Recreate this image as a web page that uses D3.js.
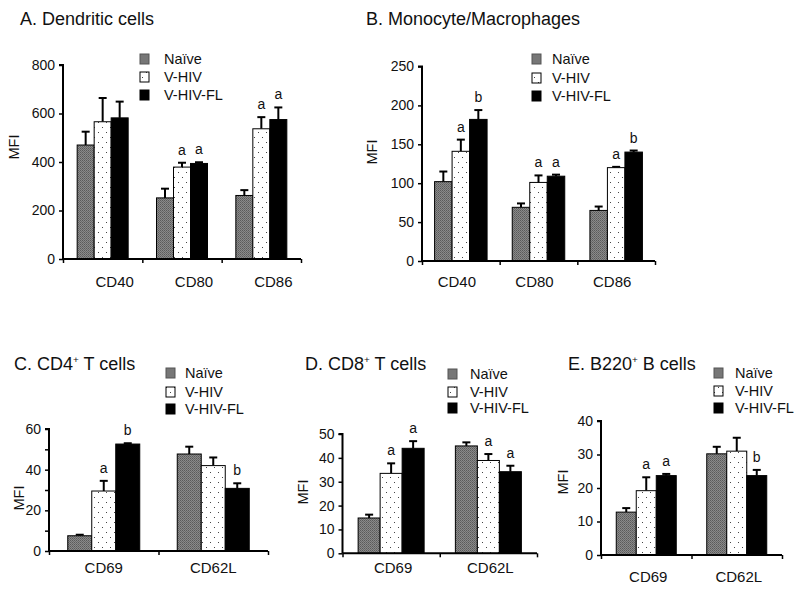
<!DOCTYPE html>
<html>
<head>
<meta charset="utf-8">
<script src="https://cdn.jsdelivr.net/npm/d3@7"></script>
<style>
  html, body { margin: 0; padding: 0; background: #fff; }
  svg { display: block; }
  text { font-family: "Liberation Sans", Arial, Helvetica, sans-serif; fill: #111; }
</style>
</head>
<body>
<svg id="chart" width="800" height="590"></svg>
<script>
// ---------------- DATA ----------------
const seriesNames = ["Naïve", "V-HIV", "V-HIV-FL"];

// A. Dendritic cells
const aCategories = ["CD40", "CD80", "CD86"];
const aNaive = [470, 252, 262];
const aNaiveSem = [55, 38, 22];
const aVHIV = [566, 379, 537];
const aVHIVSem = [98, 18, 48];
const aVHIVFL = [582, 394, 575];
const aVHIVFLSem = [67, 5, 50];
const aVHIVSig = ["", "a", "a"];
const aVHIVFLSig = ["", "a", "a"];
const aTicks = [0, 200, 400, 600, 800];

// B. Monocyte/Macrophages
const bCategories = ["CD40", "CD80", "CD86"];
const bNaive = [102, 69, 65];
const bNaiveSem = [13, 5, 5];
const bVHIV = [141, 101, 120];
const bVHIVSem = [15, 9, 1];
const bVHIVFL = [182, 109, 140];
const bVHIVFLSem = [12, 2, 2];
const bVHIVSig = ["a", "a", "a"];
const bVHIVFLSig = ["b", "a", "b"];
const bTicks = [0, 50, 100, 150, 200, 250];

// C. CD4+ T cells
const cCategories = ["CD69", "CD62L"];
const cNaive = [7.5, 47.7];
const cNaiveSem = [0.5, 3.6];
const cVHIV = [29.5, 42];
const cVHIVSem = [5, 4];
const cVHIVFL = [52.6, 30.8];
const cVHIVFLSem = [0.4, 2.5];
const cVHIVSig = ["a", ""];
const cVHIVFLSig = ["b", "b"];
const cTicks = [0, 10, 20, 30, 40, 50, 60];
const cTickLabels = ["0", "", "20", "", "40", "", "60"];

// D. CD8+ T cells
const dCategories = ["CD69", "CD62L"];
const dNaive = [14.8, 45];
const dNaiveSem = [1.4, 1.5];
const dVHIV = [33.5, 38.9];
const dVHIVSem = [4.2, 2.7];
const dVHIVFL = [44, 34.2];
const dVHIVFLSem = [3, 2.5];
const dVHIVSig = ["a", "a"];
const dVHIVFLSig = ["a", "a"];
const dTicks = [0, 10, 20, 30, 40, 50];

// E. B220+ B cells
const eCategories = ["CD69", "CD62L"];
const eNaive = [12.8, 30.2];
const eNaiveSem = [1.2, 2.1];
const eVHIV = [19.2, 31];
const eVHIVSem = [4, 4];
const eVHIVFL = [23.7, 23.7];
const eVHIVFLSem = [0.5, 1.7];
const eVHIVSig = ["a", ""];
const eVHIVFLSig = ["a", "b"];
const eTicks = [0, 10, 20, 30, 40];

// ---------------- DRAWING ----------------
const svg = d3.select("#chart");
const defs = svg.append("defs");

const pn = defs.append("pattern").attr("id", "patNaive")
  .attr("patternUnits", "userSpaceOnUse").attr("width", 2).attr("height", 2);
pn.append("rect").attr("width", 2).attr("height", 2).attr("fill", "#8a8a8a");
pn.append("rect").attr("width", 1).attr("height", 1).attr("fill", "#5a5a5a");
pn.append("rect").attr("x", 1).attr("y", 1).attr("width", 1).attr("height", 1).attr("fill", "#6a6a6a");

const pd = defs.append("pattern").attr("id", "patDots")
  .attr("patternUnits", "userSpaceOnUse").attr("width", 8).attr("height", 10);
pd.append("rect").attr("width", 8).attr("height", 10).attr("fill", "#fff");
pd.append("rect").attr("x", 2).attr("y", 2).attr("width", 1).attr("height", 1).attr("fill", "#444");
pd.append("rect").attr("x", 6).attr("y", 7).attr("width", 1).attr("height", 1).attr("fill", "#444");

const fills = ["url(#patNaive)", "url(#patDots)", "#000"];

function drawPanel(cfg) {
  const g = svg.append("g");
  const cats = cfg.categories;
  const n = cats.length;

  const y = d3.scaleLinear().domain([0, cfg.yMax]).range([cfg.y0, cfg.yTop]);
  const xb = d3.scaleBand().domain(cats).range([cfg.x0, cfg.x1]);
  const xs = d3.scaleBand().domain(seriesNames).range([0, cfg.barW * 3]);
  const xEdge = d3.scaleLinear().domain([0, n]).range([cfg.x0, cfg.x1]);

  // bars
  cfg.series.forEach((s, si) => {
    const bars = cats.map((c, i) => ({
      c, v: s.values[i], sem: s.sem[i], sig: s.sig ? s.sig[i] : ""
    }));
    const gx = d => xb(d.c) + xb.bandwidth() / 2 - cfg.barW * 1.5 + xs(seriesNames[si]);
    g.selectAll(null).data(bars).enter().append("line")
      .attr("x1", d => gx(d) + cfg.barW / 2).attr("x2", d => gx(d) + cfg.barW / 2)
      .attr("y1", d => y(d.v)).attr("y2", d => y(d.v + d.sem))
      .attr("stroke", "#000").attr("stroke-width", 2);
    g.selectAll(null).data(bars).enter().append("line")
      .attr("x1", d => gx(d) + cfg.barW / 2 - 4).attr("x2", d => gx(d) + cfg.barW / 2 + 4)
      .attr("y1", d => y(d.v + d.sem)).attr("y2", d => y(d.v + d.sem))
      .attr("stroke", "#000").attr("stroke-width", 2);
    g.selectAll(null).data(bars).enter().append("rect")
      .attr("x", d => gx(d)).attr("width", cfg.barW)
      .attr("y", d => y(d.v)).attr("height", d => y(0) - y(d.v))
      .attr("fill", fills[si]).attr("stroke", "#000").attr("stroke-width", 1);
    g.selectAll(null).data(bars.filter(d => d.sig)).enter().append("text")
      .attr("x", d => gx(d) + cfg.barW / 2)
      .attr("y", d => y(d.v + d.sem) - 8)
      .attr("text-anchor", "middle").attr("font-size", 14)
      .text(d => d.sig);
  });

  // y axis
  const yAxis = d3.axisLeft(y).tickValues(cfg.ticks).tickSize(4).tickPadding(4)
    .tickFormat((d, i) => cfg.tickLabels ? cfg.tickLabels[i] : d3.format("d")(d));
  const ya = g.append("g").attr("transform", `translate(${cfg.x0},0)`).call(yAxis);
  ya.select(".domain").attr("stroke", "#000").attr("stroke-width", 2).attr("d", `M-4,${cfg.yTop}H0V${cfg.y0}`);
  ya.selectAll(".tick line").attr("stroke", "#000").attr("stroke-width", 1.5);
  ya.selectAll(".tick text").attr("font-size", 14).attr("fill", "#222")
    .attr("font-family", '"Liberation Sans", Arial, sans-serif');

  // x axis (edge ticks)
  const xAxis = d3.axisBottom(xEdge).tickValues(d3.range(n + 1)).tickSize(4).tickFormat("");
  const xa = g.append("g").attr("transform", `translate(0,${cfg.y0})`).call(xAxis);
  xa.select(".domain").attr("stroke", "#000").attr("stroke-width", 2).attr("d", `M${cfg.x0},0H${cfg.x1}`);
  xa.selectAll(".tick line").attr("stroke", "#000").attr("stroke-width", 1.5);

  // category labels
  g.selectAll(null).data(cats).enter().append("text")
    .attr("x", d => xb(d) + xb.bandwidth() / 2 + cfg.labelDx)
    .attr("y", cfg.labelY).attr("text-anchor", "middle").attr("font-size", 15)
    .attr("fill", "#222")
    .text(d => d);

  // y label
  g.append("text")
    .attr("transform", `translate(${cfg.yLabel[0]},${cfg.yLabel[1]}) rotate(-90)`)
    .attr("text-anchor", "middle").attr("dominant-baseline", "central")
    .attr("font-size", 14.5).attr("fill", "#222").text("MFI");

  // title
  const t = g.append("text").attr("x", cfg.title[0]).attr("y", cfg.title[1])
    .attr("font-size", cfg.titleSize);
  cfg.titleParts.forEach(p => {
    const ts = t.append("tspan").text(p.t);
    if (p.sup) ts.attr("font-size", cfg.titleSize * 0.55).attr("dy", -7);
    if (p.after) ts.attr("dy", 7);
  });

  // legend
  const lg = g.append("g");
  seriesNames.forEach((s, i) => {
    lg.append("rect").attr("x", cfg.legend.sx).attr("y", cfg.legend.ys[i] - 5)
      .attr("width", 9).attr("height", 10)
      .attr("fill", i === 0 ? "#777" : fills[i])
      .attr("stroke", i === 0 ? "#555" : "#000").attr("stroke-width", 1);
    lg.append("text").attr("x", cfg.legend.tx).attr("y", cfg.legend.ys[i])
      .attr("dominant-baseline", "central").attr("font-size", 14.5).attr("fill", "#222")
      .text(s);
  });
}

drawPanel({
  categories: aCategories,
  series: [
    { values: aNaive, sem: aNaiveSem },
    { values: aVHIV, sem: aVHIVSem, sig: aVHIVSig },
    { values: aVHIVFL, sem: aVHIVFLSem, sig: aVHIVFLSig }
  ],
  ticks: aTicks, yMax: 800,
  x0: 63, x1: 301, y0: 259, yTop: 65, barW: 17, labelDx: 12, labelY: 287,
  yLabel: [14, 147], title: [20, 25], titleSize: 18,
  titleParts: [{ t: "A. Dendritic cells" }],
  legend: { sx: 140, tx: 164, ys: [59, 77, 95] }
});

drawPanel({
  categories: bCategories,
  series: [
    { values: bNaive, sem: bNaiveSem },
    { values: bVHIV, sem: bVHIVSem, sig: bVHIVSig },
    { values: bVHIVFL, sem: bVHIVFLSem, sig: bVHIVFLSig }
  ],
  ticks: bTicks, yMax: 250,
  x0: 422, x1: 655, y0: 261, yTop: 66.5, barW: 17.5, labelDx: -4, labelY: 287,
  yLabel: [372, 152], title: [366, 25], titleSize: 18,
  titleParts: [{ t: "B. Monocyte/Macrophages" }],
  legend: { sx: 532, tx: 552, ys: [59, 78, 96] }
});

drawPanel({
  categories: cCategories,
  series: [
    { values: cNaive, sem: cNaiveSem },
    { values: cVHIV, sem: cVHIVSem, sig: cVHIVSig },
    { values: cVHIVFL, sem: cVHIVFLSem, sig: cVHIVFLSig }
  ],
  ticks: cTicks, tickLabels: cTickLabels, yMax: 60,
  x0: 49, x1: 268, y0: 551, yTop: 429, barW: 24, labelDx: 0, labelY: 573,
  yLabel: [19, 498], title: [14, 370], titleSize: 18,
  titleParts: [{ t: "C. CD4" }, { t: "+", sup: true }, { t: " T cells", after: true }],
  legend: { sx: 166, tx: 185, ys: [373, 392, 409] }
});

drawPanel({
  categories: dCategories,
  series: [
    { values: dNaive, sem: dNaiveSem },
    { values: dVHIV, sem: dVHIVSem, sig: dVHIVSig },
    { values: dVHIVFL, sem: dVHIVFLSem, sig: dVHIVFLSig }
  ],
  ticks: dTicks, yMax: 50,
  x0: 342.5, x1: 537, y0: 553.3, yTop: 434, barW: 22, labelDx: 2, labelY: 573,
  yLabel: [303, 492], title: [305, 370], titleSize: 18,
  titleParts: [{ t: "D. CD8" }, { t: "+", sup: true }, { t: " T cells", after: true }],
  legend: { sx: 448, tx: 470, ys: [374, 392, 408] }
});

drawPanel({
  categories: eCategories,
  series: [
    { values: eNaive, sem: eNaiveSem },
    { values: eVHIV, sem: eVHIVSem, sig: eVHIVSig },
    { values: eVHIVFL, sem: eVHIVFLSem, sig: eVHIVFLSig }
  ],
  ticks: eTicks, yMax: 40,
  x0: 601, x1: 782, y0: 555, yTop: 421, barW: 20, labelDx: 2, labelY: 582,
  yLabel: [563, 482], title: [568, 370], titleSize: 18,
  titleParts: [{ t: "E. B220" }, { t: "+", sup: true }, { t: " B cells", after: true }],
  legend: { sx: 714, tx: 735, ys: [373, 391, 408] }
});
</script>
</body>
</html>
